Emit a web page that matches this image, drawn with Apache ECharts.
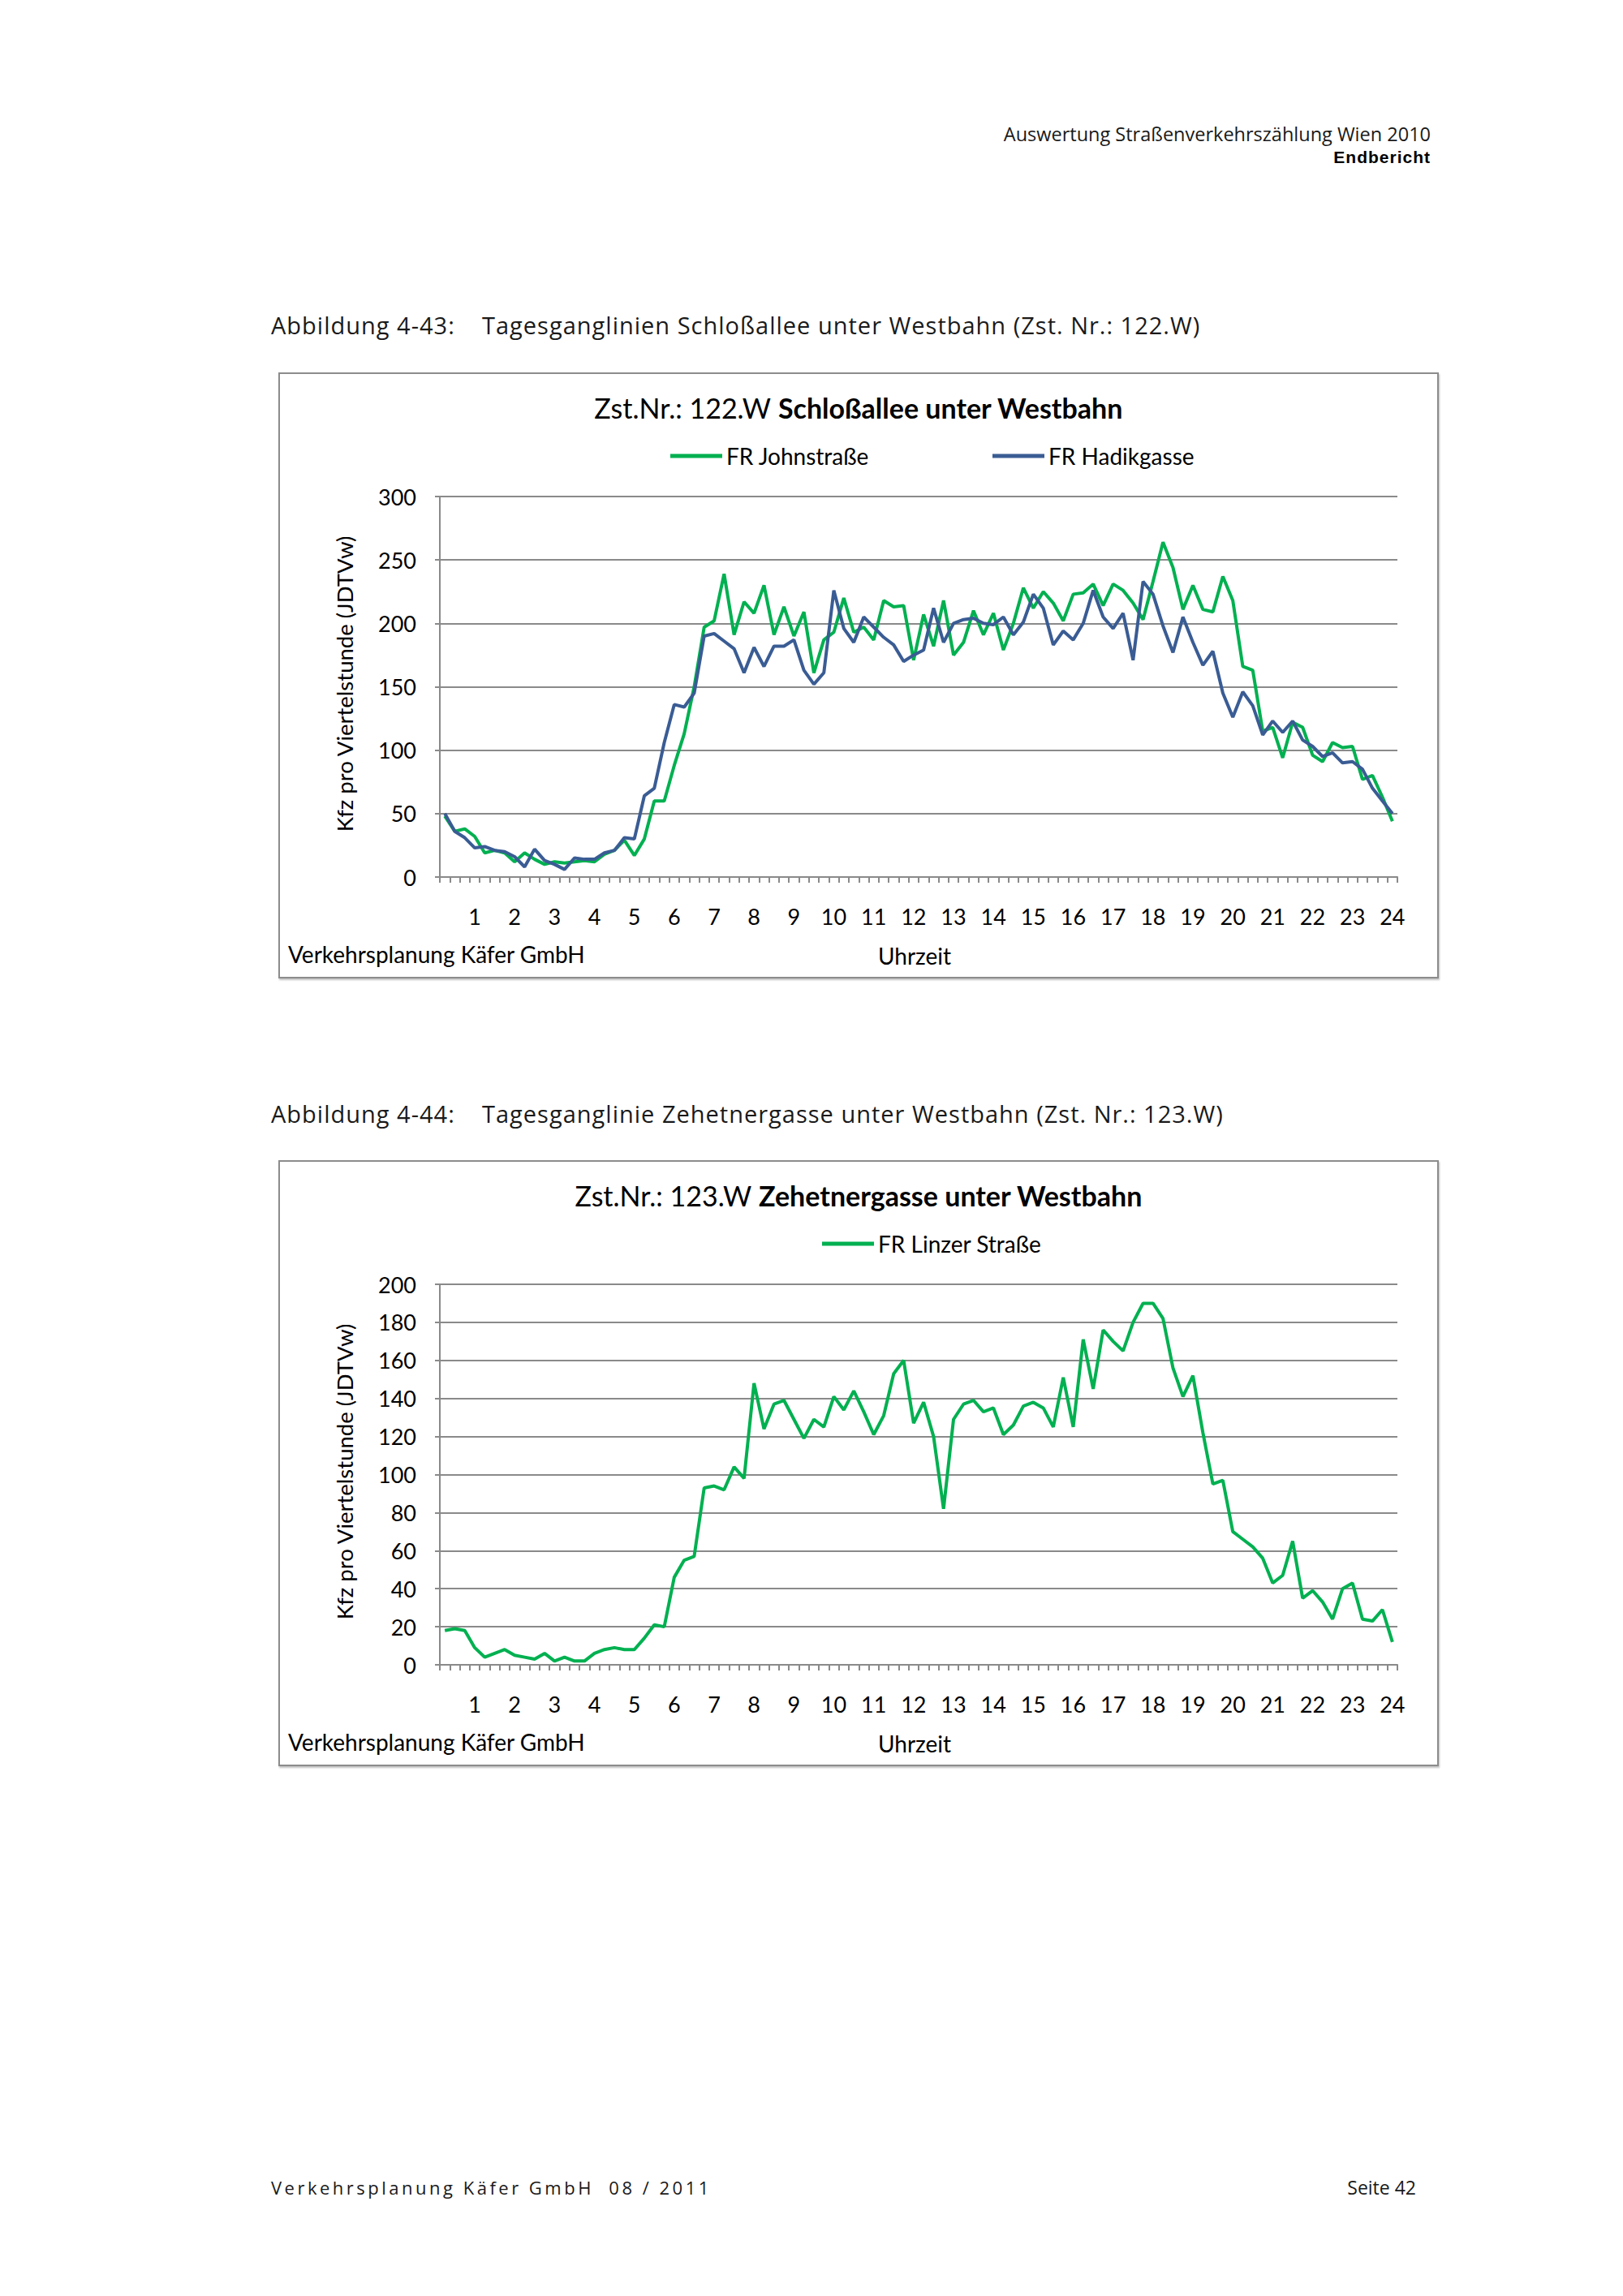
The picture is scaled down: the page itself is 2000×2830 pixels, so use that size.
<!DOCTYPE html>
<html><head><meta charset="utf-8">
<script src="https://cdn.jsdelivr.net/npm/echarts@6/dist/echarts.min.js"></script>
<style>
html,body{margin:0;padding:0;background:#fff;}
body{width:2000px;height:2830px;position:relative;overflow:hidden;}
.t{position:absolute;white-space:nowrap;color:#1a1a1a;font-family:'Open Sans','DejaVu Sans',sans-serif;}
.cap{font-size:29px;line-height:32px;letter-spacing:1px;}
.box{position:absolute;left:343px;width:1430px;height:747px;border:2px solid #8c8c8c;box-sizing:border-box;box-shadow:1px 2px 2px rgba(0,0,0,0.25);background:#fff;}
.c{position:absolute;left:0;top:0;width:1426px;height:743px;}
</style></head>
<body>
<div class="t" style="right:237px;top:151px;font-size:23.5px;line-height:28px;">Auswertung Straßenverkehrszählung Wien 2010</div>
<div class="t" style="right:237px;top:182px;font-size:21px;line-height:24px;font-weight:bold;font-family:'Liberation Sans Narrow','Liberation Sans',sans-serif;letter-spacing:1px;color:#000;">Endbericht</div>

<div class="t cap" style="left:334px;top:385px;">Abbildung 4-43:</div>
<div class="t cap" style="left:594px;top:385px;">Tagesganglinien Schloßallee unter Westbahn (Zst. Nr.: 122.W)</div>
<div class="box" style="top:459px;"><div class="c" id="c1"></div></div>

<div class="t cap" style="left:334px;top:1357px;">Abbildung 4-44:</div>
<div class="t cap" style="left:594px;top:1357px;">Tagesganglinie Zehetnergasse unter Westbahn (Zst. Nr.: 123.W)</div>
<div class="box" style="top:1430px;"><div class="c" id="c2"></div></div>

<div class="t" style="left:334px;top:2683px;font-size:22px;line-height:26px;letter-spacing:3.5px;">Verkehrsplanung Käfer GmbH&nbsp; 08 / 2011</div>
<div class="t" style="right:255px;top:2683px;font-size:23px;line-height:26px;">Seite 42</div>

<script>
// ---- data ----
const hourLabels = ['1','2','3','4','5','6','7','8','9','10','11','12','13','14','15','16','17','18','19','20','21','22','23','24'];
const quarterCats = [];
for (let h = 0; h < 24; h++) { for (let q = 1; q <= 4; q++) { quarterCats.push(h + ':' + (q * 15)); } }

const johnstrasse = [48,36,38,32,19,21,19,12,19,14,10,12,11,12,13,12,18,21,29,17,30,60,60,88,
  113,150,197,202,239,191,217,208,230,191,213,190,209,161,187,193,220,193,197,187,218,213,214,171,
  207,182,218,175,185,210,191,208,179,200,228,212,225,216,202,223,224,231,214,231,226,216,203,233,
  264,244,211,230,211,209,237,218,166,163,115,118,94,122,118,96,91,106,102,103,77,80,63,44];

const hadikgasse = [50,36,31,23,24,21,20,16,8,22,13,10,6,15,14,14,19,21,31,30,64,70,106,136,
  134,145,190,192,186,180,161,181,166,182,182,187,163,152,161,226,196,185,205,197,189,183,170,175,
  179,212,185,200,203,204,200,199,205,191,201,223,212,183,194,187,200,226,205,196,208,171,233,223,
  198,177,205,185,167,178,145,126,146,135,112,123,114,123,108,103,95,98,90,91,85,70,60,50];

const linzerStrasse = [18,19,18,9,4,6,8,5,4,3,6,2,4,2,2,6,8,9,8,8,14,21,20,46,
  55,57,93,94,92,104,98,148,124,137,139,129,119,129,125,141,134,144,133,121,131,153,160,127,
  138,120,82,129,137,139,133,135,121,126,136,138,135,125,151,125,171,145,176,170,165,180,190,190,
  182,156,141,152,122,95,97,70,66,62,56,43,47,65,35,39,33,24,40,43,24,23,29,12];

const GREEN = '#00b050';
const BLUE = '#3a5c94';
const GRID_C = '#8a8a8a';
const FONT = 'Lato, "Open Sans", sans-serif';

function makeOption(cfg) {
  const series = cfg.series.map(s => ({
    name: s.name, type: 'line', data: s.data,
    symbol: 'none', lineStyle: { color: s.color, width: 4 }, itemStyle: { color: s.color },
    emphasis: { disabled: true }
  }));
  return {
    animation: false,
    backgroundColor: '#fff',
    textStyle: { fontFamily: FONT },
    title: {
      left: 'center', top: 24, padding: 0,
      text: '{a|' + cfg.titleA + '}{b|' + cfg.titleB + '}',
      textStyle: { rich: {
        a: { fontSize: 34, fontFamily: FONT, color: '#000', fontWeight: 'normal' },
        b: { fontSize: 34, fontFamily: FONT, color: '#000', fontWeight: 'bold' }
      } }
    },
    legend: cfg.series.map((s, k) => ({
      data: [s.name], left: cfg.legendLeft[k], top: 87, padding: 0,
      icon: 'rect', itemWidth: 64, itemHeight: 5, itemGap: 0,
      textStyle: { fontSize: 28, color: '#000', fontFamily: FONT },
      selectedMode: false
    })),
    grid: { left: 197, top: 151, width: 1180, height: 469, containLabel: false },
    xAxis: {
      type: 'category', data: quarterCats, boundaryGap: true,
      axisLine: { show: true, lineStyle: { color: GRID_C, width: 2 } },
      axisTick: { show: true, interval: 0, alignWithLabel: false, length: 7, lineStyle: { color: GRID_C, width: 2 } },
      axisLabel: { show: true, fontSize: 27, color: '#000', fontFamily: FONT, margin: 35,
        interval: idx => (idx + 1) % 4 === 0,
        formatter: (val, idx) => hourLabels[(idx + 1) / 4 - 1] },
      splitLine: { show: false }
    },
    yAxis: { type: 'value', min: 0, max: cfg.yMax, interval: cfg.yStep,
      axisLine: { show: true, lineStyle: { color: GRID_C, width: 2 } },
      axisTick: { show: true, length: 6, lineStyle: { color: GRID_C, width: 2 } },
      axisLabel: { fontSize: 27, color: '#000', fontFamily: FONT, margin: 29 },
      splitLine: { show: true, lineStyle: { color: GRID_C, width: 2 } } },
    graphic: [
      { type: 'text', x: 79, y: 382, rotation: Math.PI / 2,
        style: { text: 'Kfz pro Viertelstunde (JDTVw)', fontSize: 27.5, fontFamily: FONT, fill: '#000', align: 'center', verticalAlign: 'middle' } },
      { type: 'text', x: 10, y: 715,
        style: { text: 'Verkehrsplanung Käfer GmbH', fontSize: 28, fontFamily: FONT, fill: '#000', align: 'left', verticalAlign: 'middle' } },
      { type: 'text', x: 782, y: 717,
        style: { text: 'Uhrzeit', fontSize: 28, fontFamily: FONT, fill: '#000', align: 'center', verticalAlign: 'middle' } }
    ],
    series: series
  };
}

const chart1 = echarts.init(document.getElementById('c1'), null, { renderer: 'svg' });
chart1.setOption(makeOption({
  titleA: 'Zst.Nr.: 122.W ', titleB: 'Schloßallee unter Westbahn',
  yMax: 300, yStep: 50, legendLeft: [481, 878],
  series: [
    { name: 'FR Johnstraße', data: johnstrasse, color: GREEN },
    { name: 'FR Hadikgasse', data: hadikgasse, color: BLUE }
  ]
}));

const chart2 = echarts.init(document.getElementById('c2'), null, { renderer: 'svg' });
chart2.setOption(makeOption({
  titleA: 'Zst.Nr.: 123.W ', titleB: 'Zehetnergasse unter Westbahn',
  yMax: 200, yStep: 20, legendLeft: [668],
  series: [
    { name: 'FR Linzer Straße', data: linzerStrasse, color: GREEN }
  ]
}));
</script>
</body></html>
